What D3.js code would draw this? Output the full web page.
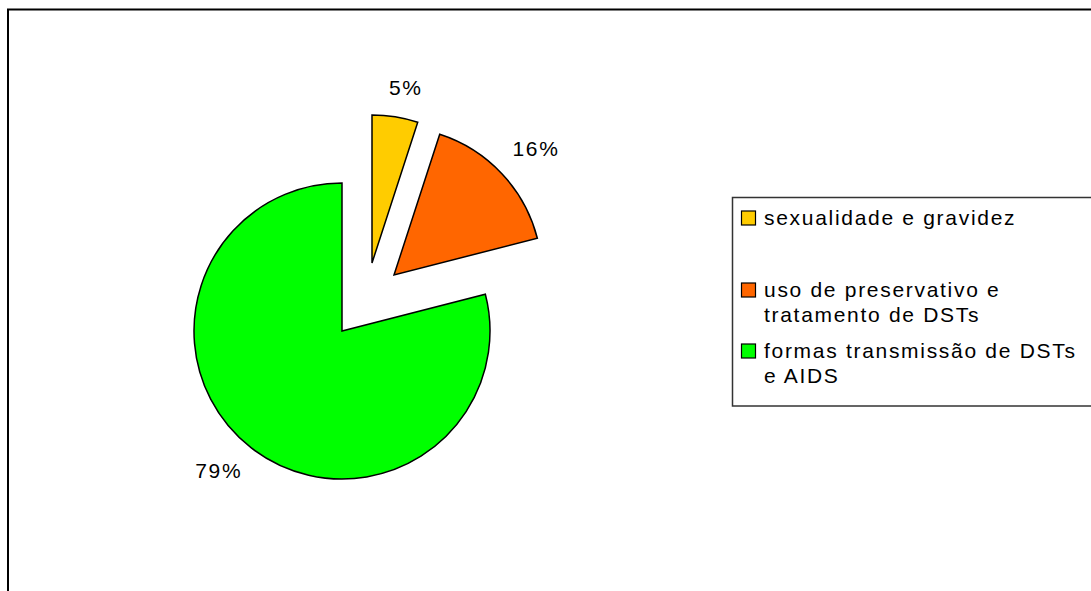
<!DOCTYPE html>
<html>
<head>
<meta charset="utf-8">
<script src="https://cdn.jsdelivr.net/npm/d3@7"></script>
<style>
  html, body { margin: 0; padding: 0; background: #fff; }
  svg { display: block; }
  text { font-family: "Liberation Sans", Arial, sans-serif; font-size: 21px; letter-spacing: 1.7px; fill: #000; }
</style>
</head>
<body>
<svg id="chart" width="1091" height="591"></svg>
<script>
// Themes covered, share of answers (%)
const categories = [
  ["sexualidade e gravidez"],
  ["uso de preservativo e", "tratamento de DSTs"],
  ["formas transmissão de DSTs", "e AIDS"]
];
const values = [5, 16, 79];
const valueLabels = ["5%", "16%", "79%"];
const colors = ["#FFCC00", "#FF6600", "#00FF00"];

// Layout
const W = 1091, H = 591;
const cx = 342, cy = 331, radius = 148;
// Exploded slices are pulled away from the centre by these offsets
const explode = [[30, -68], [52, -56], [0, 0]];
// Data labels sit outside each slice, with a small placement tweak
const labelRadius = [178, 188, 188];
const labelNudge = [[6, 0], [5, 2], [-8, -9]];

const svg = d3.select("#chart");

// Outer chart frame (runs past the right and bottom edge)
svg.append("rect")
  .attr("x", 8).attr("y", 9.5)
  .attr("width", W + 20).attr("height", H + 20)
  .attr("fill", "#fff")
  .attr("stroke", "#000").attr("stroke-width", 2);

const pie = d3.pie().sort(null).value(d => d).startAngle(0).endAngle(2 * Math.PI);
const arcs = pie(values);
const arc = d3.arc().innerRadius(0).outerRadius(radius);

const g = svg.append("g").attr("transform", `translate(${cx},${cy})`);

const slice = g.selectAll("g.slice")
  .data(arcs)
  .join("g")
  .attr("class", "slice")
  .attr("transform", (d, i) => `translate(${explode[i][0]},${explode[i][1]})`);

slice.append("path")
  .attr("d", arc)
  .attr("fill", (d, i) => colors[i])
  .attr("stroke", "#000")
  .attr("stroke-width", 1.5)
  .attr("stroke-linejoin", "miter");

slice.append("text")
  .attr("transform", (d, i) => {
    const a = (d.startAngle + d.endAngle) / 2;
    const r = labelRadius[i];
    return `translate(${Math.sin(a) * r + labelNudge[i][0]},${-Math.cos(a) * r + labelNudge[i][1]})`;
  })
  .attr("text-anchor", "middle")
  .attr("dy", "0.35em")
  .text((d, i) => valueLabels[i]);

// Legend
const legend = svg.append("g");
const legendBox = { x: 732.5, y: 197.5 };
legend.append("rect")
  .attr("x", legendBox.x).attr("y", legendBox.y)
  .attr("width", 400).attr("height", 208.5)
  .attr("fill", "#fff")
  .attr("stroke", "#333").attr("stroke-width", 1.5);

const itemBaselines = [225, 297, 358];
const lineStep = 24.5;

const item = legend.selectAll("g.item")
  .data(categories)
  .join("g")
  .attr("class", "item")
  .attr("transform", (d, i) => `translate(0,${itemBaselines[i]})`);

item.append("rect")
  .attr("x", 741.5).attr("y", -14)
  .attr("width", 14).attr("height", 14)
  .attr("fill", (d, i) => colors[i])
  .attr("stroke", "#000").attr("stroke-width", 1.2);

item.append("text")
  .attr("x", 764)
  .selectAll("tspan")
  .data(d => d)
  .join("tspan")
  .attr("x", 764)
  .attr("y", (d, j) => j * lineStep)
  .text(d => d);
</script>
</body>
</html>
